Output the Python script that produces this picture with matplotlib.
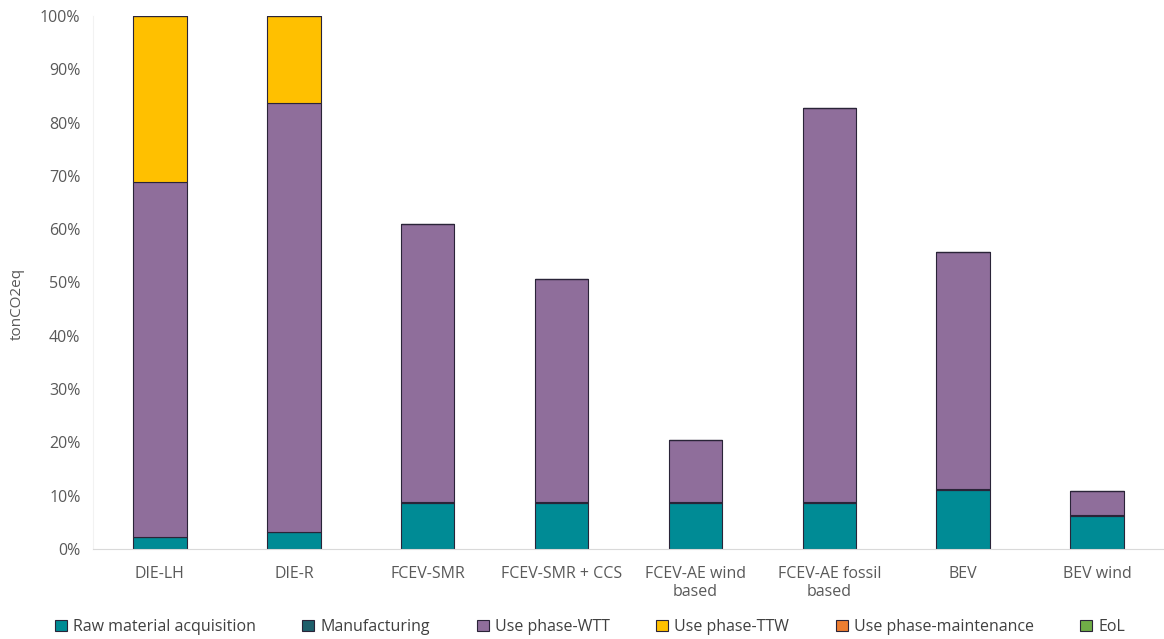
import matplotlib
matplotlib.use("Agg")
import matplotlib.pyplot as plt
import numpy as np
from matplotlib.ticker import PercentFormatter

plt.rcParams['font.family'] = ['Open Sans', 'DejaVu Sans']

categories = ["DIE-LH", "DIE-R", "FCEV-SMR", "FCEV-SMR + CCS",
              "FCEV-AE wind\nbased", "FCEV-AE fossil\nbased", "BEV", "BEV wind"]

stages = ["Raw material acquisition", "Manufacturing", "Use phase-WTT",
          "Use phase-TTW", "Use phase-maintenance", "EoL"]

raw_material = [2.2, 3.1, 8.6, 8.6, 8.6, 8.6, 11.1, 6.2]
manufacturing = [0.1, 0.1, 0.2, 0.2, 0.2, 0.2, 0.2, 0.2]
use_wtt = [66.6, 80.4, 52.2, 41.9, 11.6, 73.9, 44.5, 4.4]
use_ttw = [31.1, 16.4, 0.0, 0.0, 0.0, 0.0, 0.0, 0.0]
use_maintenance = [0.0, 0.0, 0.0, 0.0, 0.0, 0.0, 0.0, 0.0]
eol = [0.0, 0.0, 0.0, 0.0, 0.0, 0.0, 0.0, 0.0]

series = [raw_material, manufacturing, use_wtt, use_ttw, use_maintenance, eol]
colors = ["#008B95", "#1F5F6B", "#8F6E9B", "#FFC000", "#ED7D31", "#70AD47"]

fig = plt.figure(figsize=(11.64, 6.39), dpi=100)
ax = fig.add_axes([93 / 1164, 1 - 549 / 639, (1164 - 93) / 1164, (549 - 16) / 639])

x = np.arange(len(categories))
bottom = np.zeros(len(categories))
for name, vals, col in zip(stages, series, colors):
    vals = np.array(vals, dtype=float)
    ax.bar(x, vals, width=0.4, bottom=bottom, color=col, edgecolor="#2a2438",
           linewidth=0.8, label=name)
    bottom += vals

ax.set_xlim(-0.5, len(categories) - 0.5)
ax.set_ylim(0, 100)
ax.set_yticks(np.arange(0, 101, 10))
ax.yaxis.set_major_formatter(PercentFormatter(decimals=0))
ax.set_xticks(x)
ax.set_xticklabels(categories)

for side in ["top", "right"]:
    ax.spines[side].set_visible(False)
ax.spines["left"].set_color("#f2f2f2")
ax.spines["bottom"].set_color("#d9d9d9")
ax.tick_params(axis="both", length=0, labelsize=11.5, colors="#595959", pad=9)
ax.tick_params(axis="x", pad=12)

ax.set_ylabel("tonCO2eq", fontsize=11, color="#595959")
ax.yaxis.set_label_coords(-0.064, 0.46)

handles, labels = ax.get_legend_handles_labels()
fig.legend(handles, labels, ncol=6, loc="center", bbox_to_anchor=(0.507, 1 - 627 / 639),
           frameon=False, fontsize=11.5, labelcolor="#404040", handlelength=0.75,
           handleheight=0.75, handletextpad=0.4, columnspacing=2.9)

fig.savefig("out.png", dpi=100, facecolor="white")
